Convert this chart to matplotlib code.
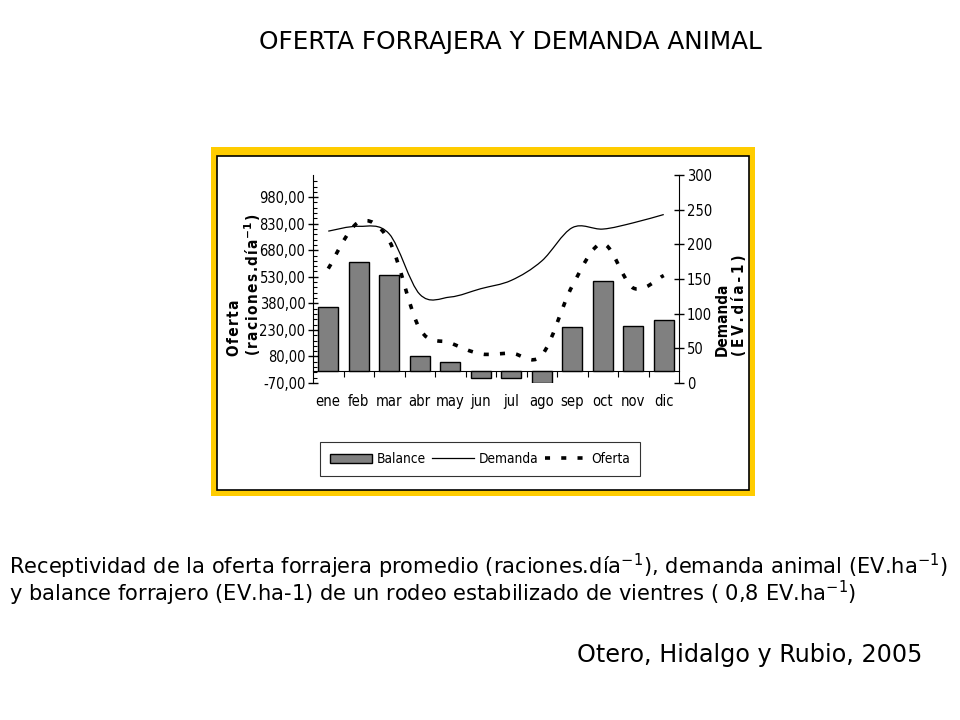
import numpy as np
import matplotlib.pyplot as plt
from matplotlib.patches import Rectangle, Patch, PathPatch
from matplotlib.lines import Line2D
from matplotlib.path import Path

# --- data ---
months = ["ene", "feb", "mar", "abr", "may", "jun", "jul", "ago", "sep", "oct", "nov", "dic"]
balance = [358, 615, 540, 81, 47, -41, -41, -69, 249, 508, 253, 287]
demanda = [219, 226, 215, 128, 124, 136, 148, 176, 224, 222, 231, 243]
oferta = [165, 232, 205, 78, 58, 42, 43, 40, 140, 201, 137, 155]

left_ticks = np.arange(-70, 981, 150)
right_ticks = np.arange(0, 301, 50)
LEFT_LIM = (-70, 1105)
RIGHT_LIM = (0, 300)

COND = dict(family="DejaVu Sans", stretch="condensed")
YELLOW = "#FFCC00"
GRAY = "#808080"
OF_STYLE = (0, (1.4, 3.1))
HAIR = "\u200a"
THIN = "\u2009"


def spaced(s, sep):
    return sep.join(s)


def smooth_path(xs, ys):
    # excel-like smoothed line: catmull-rom segments as cubic bezier
    xs = np.asarray(xs, float)
    ys = np.asarray(ys, float)
    n = len(xs)
    verts = [(xs[0], ys[0])]
    codes = [Path.MOVETO]
    for i in range(n - 1):
        i0 = max(i - 1, 0)
        i3 = min(i + 2, n - 1)
        c1 = (xs[i] + (xs[i + 1] - xs[i0]) / 6, ys[i] + (ys[i + 1] - ys[i0]) / 6)
        c2 = (xs[i + 1] - (xs[i3] - xs[i]) / 6, ys[i + 1] - (ys[i3] - ys[i]) / 6)
        verts += [c1, c2, (xs[i + 1], ys[i + 1])]
        codes += [Path.CURVE4] * 3
    return Path(verts, codes)


fig = plt.figure(figsize=(9.6, 7.2), dpi=100)

# yellow frame around the chart
fig.patches.append(Rectangle((211 / 960, 1 - 496 / 720), 544 / 960, 349 / 720,
                             transform=fig.transFigure, facecolor=YELLOW,
                             edgecolor="none", zorder=-2))
fig.patches.append(Rectangle((217 / 960, 1 - 490 / 720), 532 / 960, 334 / 720,
                             transform=fig.transFigure, facecolor="white",
                             edgecolor="black", lw=1.2, zorder=-1))

ax = fig.add_axes([313 / 960, 1 - 383 / 720, 366 / 960, 208 / 720])
ax.patch.set_alpha(0)
x = np.arange(len(months))

ax.bar(x, balance, width=0.66, color=GRAY, edgecolor="black", lw=1.0, zorder=2)
ax.set_xlim(-0.5, len(months) - 0.5)
ax.set_ylim(*LEFT_LIM)
ax.set_yticks(left_ticks)
ax.set_yticklabels([f"{v:.2f}".replace(".", ",") for v in left_ticks], fontsize=10.5, **COND)
ax.set_yticks(np.arange(-70, 1100, 30), minor=True)
ax.tick_params(axis="y", which="major", direction="inout", length=7, width=1, pad=2)
ax.tick_params(axis="y", which="minor", direction="in", length=3, width=0.8)
ax.set_xticks(x)
ax.set_xticklabels(months, fontsize=10.5, **COND)
ax.tick_params(axis="x", length=0, pad=8)
for s in ["top", "right", "bottom"]:
    ax.spines[s].set_visible(False)

# category axis drawn at zero
zero_loc = (0 - LEFT_LIM[0]) / (LEFT_LIM[1] - LEFT_LIM[0])
secax = ax.secondary_xaxis(zero_loc)
secax.set_xticks(np.arange(0.5, len(months) - 1, 1))
secax.tick_params(axis="x", direction="out", length=4, labelbottom=False)

ax.text(-0.215, 0.13, spaced("Oferta", HAIR), transform=ax.transAxes, rotation=90,
        ha="center", va="bottom", fontsize=11, fontweight="bold", **COND)
ax.text(-0.165, 0.13, spaced("(raciones.día", HAIR) + "$^{\\mathbf{-1}}$" + HAIR + ")",
        transform=ax.transAxes, rotation=90, ha="center", va="bottom",
        fontsize=11, fontweight="bold", **COND)

ax2 = ax.twinx()
ax2.set_ylim(*RIGHT_LIM)
ax2.set_yticks(right_ticks)
ax2.set_yticklabels([str(v) for v in right_ticks], fontsize=10.5, **COND)
ax2.tick_params(axis="y", direction="inout", length=7, width=1, pad=2)
for s in ["top", "left", "bottom"]:
    ax2.spines[s].set_visible(False)

ax2.add_patch(PathPatch(smooth_path(x, demanda), facecolor="none",
                        edgecolor="black", lw=0.9, zorder=3))
ax2.add_patch(PathPatch(smooth_path(x, oferta), facecolor="none",
                        edgecolor="black", lw=2.6, linestyle=OF_STYLE,
                        capstyle="butt", zorder=3))

ax2.text(1.117, 0.13, "Demanda", transform=ax2.transAxes, rotation=90,
         ha="center", va="bottom", fontsize=11, fontweight="bold", **COND)
ax2.text(1.165, 0.13, spaced("(EV.día-1)", THIN), transform=ax2.transAxes, rotation=90,
         ha="center", va="bottom", fontsize=11, fontweight="bold", **COND)

handles = [Patch(facecolor=GRAY, edgecolor="black", lw=1.0),
           Line2D([], [], color="black", lw=0.9),
           Line2D([], [], color="black", lw=2.6, linestyle=OF_STYLE, dash_capstyle="butt")]
leg = fig.legend(handles, ["Balance", "Demanda", "Oferta"], loc="center",
                 bbox_to_anchor=(480 / 960, 1 - 459 / 720), ncol=3,
                 frameon=True, fancybox=False, edgecolor="black",
                 handlelength=3.1, handleheight=0.6, handletextpad=0.3,
                 columnspacing=0.5, borderpad=0.75,
                 prop=dict(size=9.8, **COND))
leg.get_frame().set_linewidth(0.8)

fig.text(510 / 960, 1 - 42 / 720, "OFERTA FORRAJERA Y DEMANDA ANIMAL",
         ha="center", va="center", fontsize=17.8, family="DejaVu Sans")
fig.text(9 / 960, 1 - 566 / 720,
         "Receptividad de la oferta forrajera promedio (raciones.día$^{\\mathrm{-1}}$), "
         "demanda animal (EV.ha$^{\\mathrm{-1}}$)",
         ha="left", va="center", fontsize=15.1, family="DejaVu Sans")
fig.text(9 / 960, 1 - 593 / 720,
         "y balance forrajero (EV.ha-1) de un rodeo estabilizado de vientres ( 0,8 EV.ha$^{\\mathrm{-1}}$)",
         ha="left", va="center", fontsize=15.1, family="DejaVu Sans")
fig.text(922 / 960, 1 - 655 / 720, "Otero, Hidalgo y Rubio, 2005",
         ha="right", va="center", fontsize=17.2, family="DejaVu Sans")

fig.savefig("out.png", dpi=100)
